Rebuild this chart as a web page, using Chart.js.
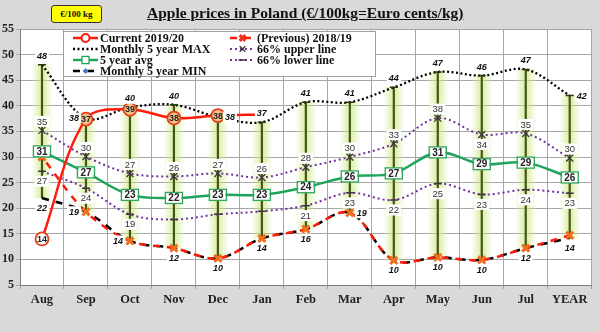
<!DOCTYPE html>
<html lang="en">
<head>
<meta charset="UTF-8">
<title>Apple prices in Poland</title>
<script src="https://cdn.jsdelivr.net/npm/chart.js"></script>
<style>
  body { margin: 0; background: #d9d9d9; }
  .wrap { position: relative; width: 600px; height: 332px; overflow: hidden; }
  #chart { position: absolute; left: 0; top: 0; }
  #title {
    position: absolute; left: 147px; top: 5px;
    font: bold 15.5px "Liberation Serif", "Times New Roman", serif;
    line-height: 16px; color: #111; text-decoration: underline; white-space: nowrap;
  }
  #unit {
    position: absolute; left: 51px; top: 5px; width: 51px; height: 18px;
    box-sizing: border-box; background: #ffff00; border: 1px solid #333; border-radius: 3px;
    font: bold 9px "Liberation Serif", serif; line-height: 16px; text-align: center; color: #111;
  }
</style>
</head>
<body>
<div class="wrap">
  <canvas id="chart" width="600" height="332"></canvas>
  <div id="unit">€/100 kg</div>
  <div id="title">Apple prices in Poland (€/100kg=Euro cents/kg)</div>
</div>
<script>
// monthly prices, €/100kg
const months   = ['Aug', 'Sep', 'Oct', 'Nov', 'Dec', 'Jan', 'Feb', 'Mar', 'Apr', 'May', 'Jun', 'Jul', 'YEAR'];
const current  = [14, 37.4, 39.3, 37.6, 38.1, 38.3, null, null, null, null, null, null, null];
const previous = [30, 19.3, 13.6, 12.2, 10.2, 14.1, 15.9, 19.1, 9.8, 10.4, 9.9, 12.2, 14.7];
const max5y    = [48, 37.6, 39.7, 40.2, 37.8, 36.8, 40.7, 40.7, 43.6, 46.6, 45.9, 47.1, 42];
const upper66  = [35.2, 30.1, 26.8, 26.2, 26.8, 26, 28, 30, 32.6, 37.6, 34.4, 34.6, 29.8];
const avg5y    = [31.1, 27, 22.6, 22, 22.6, 22.6, 24.1, 26.2, 26.8, 30.9, 28.6, 28.9, 26];
const lower66  = [27.2, 23.9, 18.8, 17.8, 18.8, 19.4, 20.5, 23, 21.6, 24.8, 22.7, 23.6, 22.9];
const min5y    = [22, 19.3, 13.6, 12.2, 10.2, 14.1, 15.9, 19.1, 9.8, 10.4, 9.9, 12.2, 14.2];

// where each value label sits relative to its point (t/b/l/r/c, null = none)
const maxPos   = ['t', 'l', 't', 't', 'r', 't', 't', 't', 't', 't', 't', 't', 'r'];
const minPos   = ['b', 'l', 'l', 'b', 'b', 'b', 'b', 'r', 'b', 'b', 'b', 'b', 'b'];
const upperPos = ['t', 't', 't', 't', 't', 't', 't', 't', 't', 't', 'b', 't', 't'];
const lowerPos = ['b', 'b', 'b', null, null, null, 'b', 'b', 'b', 'b', 'b', 'b', 'b'];
const curPos   = ['c', 'c', 'c', 'c', 'c', null];

const range = months.map((m, i) => [min5y[i], max5y[i]]);

const SANS = '"Liberation Sans", Arial, sans-serif';
const SERIF = '"Liberation Serif", "Times New Roman", serif';

const plotBg = {
  id: 'plotBg',
  beforeDraw(chart) {
    const a = chart.chartArea;
    chart.ctx.save();
    chart.ctx.fillStyle = '#ffffff';
    chart.ctx.fillRect(a.left, a.top, a.right - a.left, a.bottom - a.top);
    chart.ctx.restore();
  }
};

function boxText(ctx, text, x, y, font, color, bg, border) {
  ctx.font = font;
  const w = ctx.measureText(text).width + 4;
  const h = 11;
  if (bg) {
    ctx.fillStyle = bg;
    ctx.fillRect(x - w / 2, y - h / 2, w, h);
  }
  if (border) {
    ctx.strokeStyle = border;
    ctx.lineWidth = 1.3;
    ctx.strokeRect(x - w / 2 - 1, y - h / 2, w + 2, h);
  }
  ctx.fillStyle = color;
  ctx.textAlign = 'center';
  ctx.textBaseline = 'middle';
  ctx.fillText(text, x, y + 0.5);
}

const valueLabels = {
  id: 'valueLabels',
  afterDatasetsDraw(chart) {
    const ctx = chart.ctx;
    ctx.save();
    chart.data.datasets.forEach((ds, di) => {
      if (!ds.labelKind) return;
      const meta = chart.getDatasetMeta(di);
      meta.data.forEach((pt, i) => {
        const v = ds.data[i];
        const pos = ds.labelPos ? ds.labelPos[i] : 'c';
        if (v == null || !pos) return;
        let x = pt.x, y = pt.y;
        if (pos === 't') y -= 9;
        if (pos === 'b') y += 10;
        if (pos === 'l') x -= 12;
        if (pos === 'r') x += 12;
        const txt = String(Math.round(v));
        if (ds.labelKind === 'italic') {
          boxText(ctx, txt, x, y, 'italic bold 9px ' + SANS, '#111', '#ffffff');
        } else if (ds.labelKind === 'plain') {
          boxText(ctx, txt, x, y, '9.5px ' + SANS, '#333', '#ffffff');
        } else if (ds.labelKind === 'box') {
          boxText(ctx, txt, x, y, 'bold 10px ' + SANS, '#222', '#ffffff', '#2fa65e');
        } else if (ds.labelKind === 'circle') {
          boxText(ctx, txt, x, y, 'bold 9px ' + SANS, '#222');
        }
      });
    });
    ctx.restore();
  }
};

// legend drawn as a framed box inside the plot, two columns
const legendBox = {
  id: 'legendBox',
  afterDraw(chart) {
    const ctx = chart.ctx;
    const ds = chart.data.datasets;
    const byId = id => ds.find(d => d.id === id);
    const rows = [
      ['cur', 73, 38], ['max', 73, 49], ['avg', 73, 60], ['min', 73, 71],
      ['prev', 230, 38], ['up', 230, 49], ['low', 230, 60]
    ];
    ctx.save();
    ctx.fillStyle = '#ffffff';
    ctx.fillRect(63.5, 31.5, 312, 45);
    ctx.strokeStyle = '#a0a0a0';
    ctx.lineWidth = 1;
    ctx.strokeRect(63.5, 31.5, 312, 45);
    rows.forEach(([id, x, y]) => {
      const d = byId(id);
      ctx.save();
      ctx.strokeStyle = d.borderColor;
      ctx.lineWidth = d.borderWidth;
      ctx.setLineDash(d.borderDash || []);
      ctx.beginPath();
      ctx.moveTo(x, y);
      ctx.lineTo(x + 25, y);
      ctx.stroke();
      ctx.setLineDash([]);
      const m = d.legendMarker;
      if (m) {
        ctx.fillStyle = m.fill;
        ctx.strokeStyle = m.stroke;
        ctx.lineWidth = m.width;
        Chart.helpers.drawPoint(ctx, { pointStyle: m.style, radius: m.radius, rotation: 0, borderWidth: m.width }, x + 12.5, y);
      }
      ctx.restore();
      ctx.fillStyle = '#111';
      ctx.font = 'bold 12px ' + SERIF;
      ctx.textAlign = 'left';
      ctx.textBaseline = 'middle';
      ctx.fillText(d.label, x + 27, y + 1);
    });
    ctx.restore();
  }
};

// soft green band behind each min-max stick
function glowFill(c) {
  const sx = c.chart.scales.x;
  const x = sx && c.dataIndex !== undefined ? sx.getPixelForValue(c.dataIndex) : NaN;
  if (!Number.isFinite(x)) return 'rgba(200,230,120,0.4)';
  const g = c.chart.ctx.createLinearGradient(x - 11, 0, x + 11, 0);
  g.addColorStop(0, 'rgba(215,238,150,0)');
  g.addColorStop(0.3, 'rgba(205,234,130,0.45)');
  g.addColorStop(0.5, 'rgba(195,228,110,0.7)');
  g.addColorStop(0.7, 'rgba(205,234,130,0.45)');
  g.addColorStop(1, 'rgba(215,238,150,0)');
  return g;
}

new Chart(document.getElementById('chart'), {
  type: 'line',
  data: {
    labels: months,
    datasets: [
      {
        id: 'glow', type: 'bar', data: range, grouped: false, barThickness: 22, order: 20,
        backgroundColor: glowFill
      },
      {
        id: 'stick', type: 'bar', data: range, grouped: false, barThickness: 1.5, order: 19,
        backgroundColor: '#44531a'
      },
      {
        id: 'max', label: 'Monthly 5 year MAX', data: max5y, order: 8,
        borderColor: '#000', borderWidth: 2.3, borderDash: [2, 2.5], tension: 0.35,
        pointStyle: 'line', pointRadius: 4, pointBorderColor: '#2b3a0a', pointBorderWidth: 1.5,
        labelKind: 'italic', labelPos: maxPos
      },
      {
        id: 'low', label: '66% lower line', data: lower66, order: 7,
        borderColor: '#7030a0', borderWidth: 2, borderDash: [2, 3], tension: 0.35,
        pointStyle: 'line', pointRadius: 4, pointBorderColor: '#3a3a3a', pointBorderWidth: 1.5,
        labelKind: 'plain', labelPos: lowerPos,
        legendMarker: { style: 'line', radius: 4, fill: '#333', stroke: '#333', width: 1.5 }
      },
      {
        id: 'up', label: '66% upper line', data: upper66, order: 6,
        borderColor: '#7030a0', borderWidth: 2, borderDash: [2, 3], tension: 0.35,
        pointStyle: 'crossRot', pointRadius: 5, pointBorderColor: '#3a3a3a', pointBorderWidth: 1.3,
        labelKind: 'plain', labelPos: upperPos,
        legendMarker: { style: 'crossRot', radius: 4, fill: '#333', stroke: '#333', width: 1.3 }
      },
      {
        id: 'avg', label: '5 year avg', data: avg5y, order: 5,
        borderColor: '#1fa55b', borderWidth: 2.5, tension: 0.35, pointRadius: 0,
        labelKind: 'box',
        legendMarker: { style: 'rect', radius: 5, fill: '#fff', stroke: '#1fa55b', width: 1.3 }
      },
      {
        id: 'min', label: 'Monthly 5 year MIN', data: min5y, order: 4,
        borderColor: '#000', borderWidth: 2.5, borderDash: [7, 7], tension: 0.35,
        pointRadius: 0,
        labelKind: 'italic', labelPos: minPos,
        legendMarker: { style: 'rectRot', radius: 2.5, fill: '#4a7fd0', stroke: '#4a7fd0', width: 1 }
      },
      {
        id: 'prev', label: '(Previous) 2018/19', data: previous, order: 3,
        borderColor: '#ff1a0a', borderWidth: 2.5, borderDash: [7, 7], borderDashOffset: 7, tension: 0.35,
        pointStyle: 'crossRot', pointRadius: 5, pointBorderColor: '#f0701e', pointBorderWidth: 3,
        legendMarker: { style: 'crossRot', radius: 4, fill: '#f0301e', stroke: '#f0301e', width: 3 }
      },
      {
        id: 'cur', label: 'Current 2019/20', data: current, order: 1,
        borderColor: '#ff1a0a', borderWidth: 2.5, tension: 0.35,
        pointStyle: 'circle', pointRadius: [6.5, 6.5, 6.5, 6.5, 6.5, 0],
        pointBackgroundColor: ['#ffffff', '#f9c08a', '#f9c08a', '#f9c08a', '#f9c08a', '#f9c08a'],
        pointBorderColor: '#e0401a', pointBorderWidth: 1.8,
        labelKind: 'circle', labelPos: curPos,
        legendMarker: { style: 'circle', radius: 4, fill: '#fff', stroke: '#ff1a0a', width: 2 }
      }
    ]
  },
  options: {
    responsive: false,
    animation: false,
    layout: { padding: { top: 29, right: 6, left: 0, bottom: 0 } },
    plugins: { legend: { display: false }, tooltip: { enabled: false } },
    scales: {
      x: {
        offset: true,
        grid: { offset: true, color: '#a6a6a6', tickLength: 4 },
        border: { color: '#7f7f7f' },
        ticks: { color: '#222', padding: 3, font: { family: SERIF, size: 12.5, weight: 'bold' } },
        afterFit: s => { s.height = 47; }
      },
      y: {
        min: 5, max: 55,
        grid: { color: '#a6a6a6', tickLength: 4 },
        border: { color: '#7f7f7f' },
        ticks: { stepSize: 5, color: '#222', padding: 2, font: { family: SERIF, size: 12, weight: 'bold' } },
        afterFit: s => { s.width = 20; }
      }
    }
  },
  plugins: [plotBg, valueLabels, legendBox]
});
</script>
</body>
</html>
